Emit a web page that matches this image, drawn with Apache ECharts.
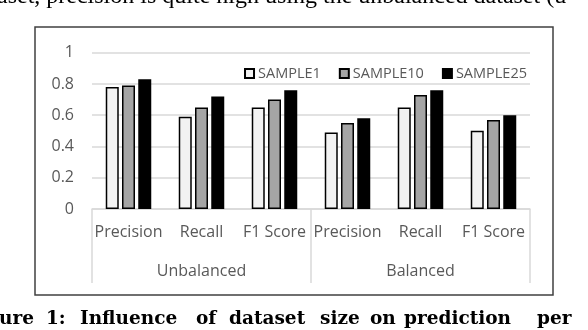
<!DOCTYPE html>
<html>
<head>
<meta charset="utf-8">
<script src="https://cdn.jsdelivr.net/npm/echarts@6/dist/echarts.min.js"></script>
<style>
  html, body { margin: 0; padding: 0; background: #fff; }
  #chart { width: 588px; height: 330px; }
</style>
</head>
<body>
<div id="chart"></div>
<script>
// data
var metrics = ['Precision', 'Recall', 'F1 Score', 'Precision', 'Recall', 'F1 Score'];
var groups = ['Unbalanced', 'Balanced'];
var seriesNames = ['SAMPLE1', 'SAMPLE10', 'SAMPLE25'];
var sample1 = [0.78, 0.59, 0.65, 0.49, 0.65, 0.50];
var sample10 = [0.79, 0.65, 0.70, 0.55, 0.73, 0.57];
var sample25 = [0.83, 0.72, 0.76, 0.58, 0.76, 0.60];
var yTicks = [0, 0.2, 0.4, 0.6, 0.8, 1];

// surrounding page text (cropped paper line above, caption below)
var topLine = 'aset, precision is quite high using the unbalanced dataset (u';
var captionWords = ['ure', '1:', 'Influence', 'of', 'dataset', 'size', 'on', 'prediction', 'per'];
var captionLeft = [-1, 46, 80, 196, 229, 320, 370, 404, 537];

var textFont = 'Open Sans'
var labelColor = '#595959' //坐标轴文字颜色
var gridColor = '#d9d9d9'

var myChart = echarts.init(document.getElementById('chart'))

function barSeries(name, values, fill) {
  return {
    type: 'bar',
    name: name,
    data: values,
    barWidth: 13,
    barGap: '25%',
    xAxisIndex: 0,
    itemStyle: {
      color: fill,
      borderColor: '#000',
      borderWidth: 1.5
    }
  }
}

var graphics = [{
  type: 'rect',
  shape: { x: 35, y: 27, width: 518, height: 268 },
  style: { fill: 'none', stroke: '#404040', lineWidth: 1.5 },
  silent: true
}, {
  type: 'text',
  left: -3,
  top: -15,
  style: {
    text: topLine,
    font: '24px "Liberation Serif"',
    fill: '#000'
  }
}]
captionWords.forEach(function(w, i) {
  graphics.push({
    type: 'text',
    left: captionLeft[i],
    top: 310,
    style: {
      text: w,
      font: 'bold 18.5px "DejaVu Serif"',
      fill: '#000'
    }
  })
})

myChart.setOption({
  backgroundColor: '#fff',
  animation: false,
  grid: {
    left: 92,
    right: 58,
    top: 52.7,
    bottom: 121
  },
  legend: {
    right: 56,
    top: 61,
    itemWidth: 9,
    itemHeight: 9,
    itemGap: 18,
    icon: 'rect',
    textStyle: {
      color: labelColor,
      fontFamily: textFont,
      fontSize: 14.5,
      padding: [0, 0, 0, -1]
    },
    data: seriesNames
  },
  xAxis: [{
    type: 'category',
    data: metrics,
    axisLine: { lineStyle: { color: gridColor, width: 1.5 } },
    axisTick: { show: false },
    axisLabel: {
      color: labelColor,
      fontFamily: textFont,
      fontSize: 16,
      margin: 15,
      interval: 0
    }
  }, {
    type: 'category',
    data: groups,
    position: 'bottom',
    axisLine: { show: false },
    axisTick: {
      show: true,
      length: 74,
      lineStyle: { color: gridColor, width: 1.5 }
    },
    axisLabel: {
      color: labelColor,
      fontFamily: textFont,
      fontSize: 16,
      margin: 54,
      interval: 0
    }
  }],
  yAxis: {
    type: 'value',
    min: yTicks[0],
    max: yTicks[yTicks.length - 1],
    interval: 0.2,
    axisLine: { show: false },
    axisTick: { show: false },
    axisLabel: {
      color: labelColor,
      fontFamily: textFont,
      fontSize: 16,
      margin: 18
    },
    splitLine: { lineStyle: { color: gridColor, width: 1.5 } }
  },
  graphic: graphics,
  series: [
    barSeries(seriesNames[0], sample1, '#f2f2f2'),
    barSeries(seriesNames[1], sample10, '#a5a5a5'),
    barSeries(seriesNames[2], sample25, '#000000')
  ]
})
</script>
</body>
</html>
